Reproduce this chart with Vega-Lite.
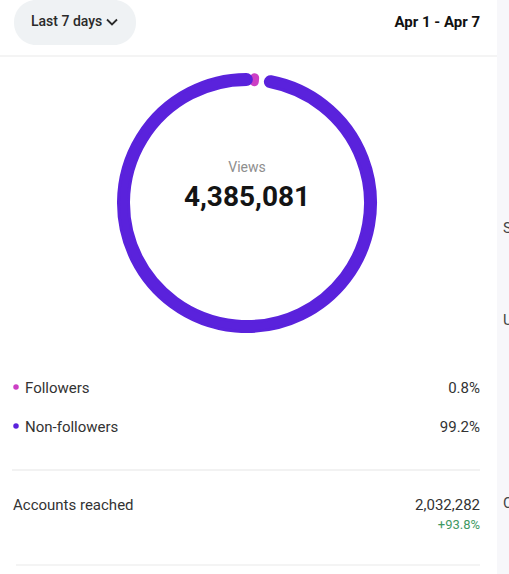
{
  "$schema": "https://vega.github.io/schema/vega-lite/v6.json",
  "width": 494,
  "height": 406,
  "padding": {"left": 0, "top": 0, "right": 15, "bottom": 168},
  "autosize": "none",
  "background": "#ffffff",
  "config": {"view": {"stroke": null}, "font": "Roboto", "text": {"font": "Roboto"}},
  "datasets": {
    "header": [{"range": "Last 7 days", "period": "Apr 1 - Apr 7"}],
    "views": [
      {"segment": "Followers", "share": 0.008},
      {"segment": "Non-followers", "share": 0.992}
    ],
    "total": [{"metric": "Views", "value": 4385081}],
    "reach": [{"metric": "Accounts reached", "value": 2032282, "change": 0.938}],
    "side": [{"t": "S"}, {"t": "U"}, {"t": "C"}]
  },
  "layer": [
    {
      "data": {"name": "header"},
      "mark": {"type": "rect", "color": "#f7f7fa"},
      "encoding": {"x": {"value": 497}, "x2": {"value": 509}, "y": {"value": 0}, "y2": {"value": 574}}
    },
    {
      "data": {"name": "side"},
      "transform": [{"filter": "datum.t == 'S'"}],
      "mark": {"type": "text", "align": "left", "baseline": "middle", "fontSize": 15, "color": "#444444"},
      "encoding": {"x": {"value": 503}, "y": {"value": 228}, "text": {"field": "t"}}
    },
    {
      "data": {"name": "side"},
      "transform": [{"filter": "datum.t == 'U'"}],
      "mark": {"type": "text", "align": "left", "baseline": "middle", "fontSize": 15, "color": "#444444"},
      "encoding": {"x": {"value": 503}, "y": {"value": 320}, "text": {"field": "t"}}
    },
    {
      "data": {"name": "side"},
      "transform": [{"filter": "datum.t == 'C'"}],
      "mark": {"type": "text", "align": "left", "baseline": "middle", "fontSize": 15, "color": "#444444"},
      "encoding": {"x": {"value": 503}, "y": {"value": 503}, "text": {"field": "t"}}
    },
    {
      "data": {"name": "header"},
      "mark": {"type": "rect", "color": "#eff2f4", "cornerRadius": 22},
      "encoding": {"x": {"value": 14}, "x2": {"value": 136}, "y": {"value": 0}, "y2": {"value": 45}}
    },
    {
      "data": {"name": "header"},
      "mark": {"type": "text", "align": "left", "baseline": "middle", "fontSize": 14, "fontWeight": 500, "color": "#2a2a2a"},
      "encoding": {"text": {"field": "range"}, "x": {"value": 31}, "y": {"value": 22}}
    },
    {
      "data": {"name": "header"},
      "mark": {"type": "point", "shape": "M-1,-0.5L0,0.5L1,-0.5", "filled": false, "stroke": "#2a2a2a", "strokeWidth": 1.8, "size": 100, "opacity": 1},
      "encoding": {"x": {"value": 112}, "y": {"value": 22}}
    },
    {
      "data": {"name": "header"},
      "mark": {"type": "text", "align": "right", "baseline": "middle", "fontSize": 15, "fontWeight": "bold", "color": "#111111"},
      "encoding": {"text": {"field": "period"}, "x": {"value": 480}, "y": {"value": 22}}
    },
    {
      "data": {"name": "header"},
      "mark": {"type": "rule", "color": "#f1f1f1", "strokeWidth": 1.5},
      "encoding": {"x": {"value": 0}, "x2": {"value": 497}, "y": {"value": 56}}
    },
    {
      "data": {"name": "views"},
      "mark": {"type": "arc", "radius": 128.5, "radius2": 118.5, "cornerRadius": 5, "strokeWidth": 3},
      "encoding": {
        "theta": {"field": "share", "type": "quantitative", "stack": true, "scale": {"range": [0.15, 6.3682]}},
        "order": {"field": "share", "sort": "descending"},
        "color": {"field": "segment", "type": "nominal", "scale": {"domain": ["Followers", "Non-followers"], "range": ["#cc3fc4", "#5a22dc"]}, "legend": null},
        "stroke": {"field": "segment", "type": "nominal", "scale": {"domain": ["Followers", "Non-followers"], "range": ["#cc3fc4", "#5a22dc"]}, "legend": null}
      }
    },
    {
      "data": {"name": "total"},
      "mark": {"type": "text", "align": "center", "baseline": "middle", "fontSize": 14, "color": "#8e8e8e", "dy": -35},
      "encoding": {"text": {"field": "metric"}}
    },
    {
      "data": {"name": "total"},
      "mark": {"type": "text", "align": "center", "baseline": "middle", "fontSize": 28, "fontWeight": "bold", "color": "#141414", "dy": -5},
      "encoding": {"text": {"field": "value", "type": "quantitative", "format": ","}}
    },
    {
      "data": {"name": "views"},
      "mark": {"type": "point", "filled": true, "size": 30, "opacity": 1},
      "encoding": {
        "x": {"value": 16},
        "y": {"field": "segment", "type": "nominal", "scale": {"domain": ["Followers", "Non-followers"], "range": [387, 426], "padding": 0}, "axis": null},
        "color": {"field": "segment", "type": "nominal", "legend": null}
      }
    },
    {
      "data": {"name": "views"},
      "mark": {"type": "text", "align": "left", "baseline": "middle", "fontSize": 15, "color": "#333333", "dy": 1},
      "encoding": {
        "x": {"value": 25},
        "y": {"field": "segment", "type": "nominal"},
        "text": {"field": "segment"}
      }
    },
    {
      "data": {"name": "views"},
      "mark": {"type": "text", "align": "right", "baseline": "middle", "fontSize": 15, "color": "#333333", "dy": 1},
      "encoding": {
        "x": {"value": 480},
        "y": {"field": "segment", "type": "nominal"},
        "text": {"field": "share", "type": "quantitative", "format": ".1%"}
      }
    },
    {
      "data": {"name": "reach"},
      "mark": {"type": "rule", "color": "#eeeeee", "strokeWidth": 1.5},
      "encoding": {"x": {"value": 12}, "x2": {"value": 480}, "y": {"value": 470}}
    },
    {
      "data": {"name": "reach"},
      "mark": {"type": "text", "align": "left", "baseline": "middle", "fontSize": 15, "color": "#333333"},
      "encoding": {"x": {"value": 13}, "y": {"value": 505}, "text": {"field": "metric"}}
    },
    {
      "data": {"name": "reach"},
      "mark": {"type": "text", "align": "right", "baseline": "middle", "fontSize": 15, "color": "#333333"},
      "encoding": {"x": {"value": 480}, "y": {"value": 505}, "text": {"field": "value", "type": "quantitative", "format": ","}}
    },
    {
      "data": {"name": "reach"},
      "mark": {"type": "text", "align": "right", "baseline": "middle", "fontSize": 13, "color": "#3f9a63"},
      "encoding": {"x": {"value": 480}, "y": {"value": 525}, "text": {"field": "change", "type": "quantitative", "format": "+.1%"}}
    },
    {
      "data": {"name": "reach"},
      "mark": {"type": "rule", "color": "#f0f0f0", "strokeWidth": 1.5},
      "encoding": {"x": {"value": 16}, "x2": {"value": 480}, "y": {"value": 565}}
    }
  ]
}
